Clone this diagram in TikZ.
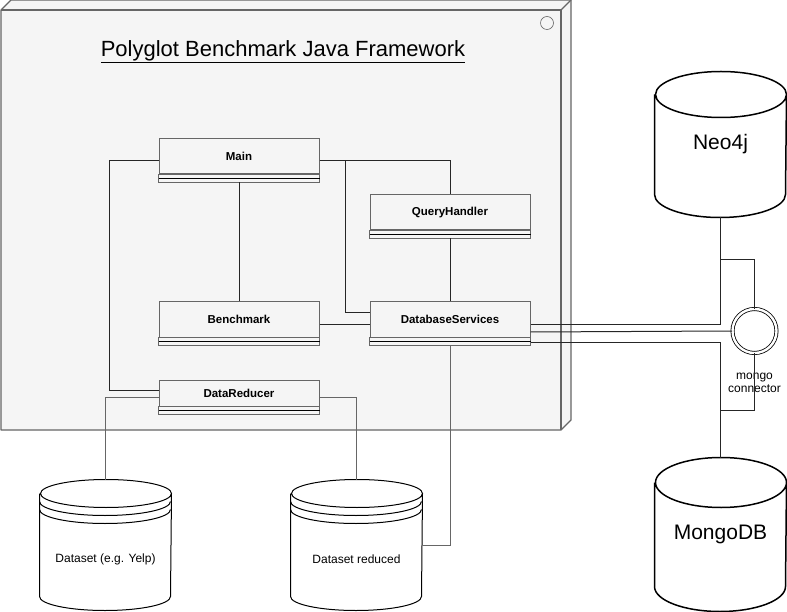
\documentclass[tikz,border=0pt]{standalone}
\usepackage{fontspec}
\setmainfont{Liberation Sans}
\usepackage{tikz}
\usetikzlibrary{calc, positioning}

\definecolor{framefill}{HTML}{F5F5F5}
\definecolor{framegray}{HTML}{666666}

% cylinder outline round a named node: style, node, ellipse radius
\newcommand{\dbbody}[3]{%
  \draw[#1] ([yshift=-#3]#2.north west) -- ([yshift=#3]#2.south west)
    arc[start angle=180, end angle=360, x radius=65.5pt, y radius=#3]
    -- ([yshift=-#3]#2.north east)
    arc[start angle=0, end angle=360, x radius=65.5pt, y radius=#3];}

\begin{document}
\begin{tikzpicture}[x=1pt,y=-1pt,line width=1pt,
    class node/.style={rectangle,draw=framegray,fill=framefill,minimum width=160pt,
      minimum height=35pt,inner sep=0pt,font=\fontsize{11.5}{14}\selectfont\bfseries},
    db node/.style={rectangle,minimum width=131pt,minimum height=145pt,inner sep=0pt,
      font=\fontsize{21}{25}\selectfont},
    data node/.style={rectangle,minimum width=131pt,minimum height=130pt,inner sep=0pt},
    every label/.style={font=\fontsize{12}{14}\selectfont},
    link/.style={draw=black!85},
    out link/.style={draw=framegray}]

  \useasboundingbox (0,0) rectangle (787,612);

  % framework box
  \draw[framegray,line width=1.2pt,fill=framefill,line join=round]
    (1,10) -- (11,0) -- (571,0) -- (571,420) -- (561,430) -- (1,430) -- cycle;
  \draw[framegray,line width=1.2pt,line join=round] (1,10) -- (561,10) -- (561,430);
  \draw[framegray,line width=1.2pt] (561,10) -- (571,0);
  \draw[framegray,line width=0.6pt] (547,23) circle[radius=6.5pt];
  \node[font=\fontsize{22}{26}\selectfont] (title) at (283,52)
    {\underline{Polyglot Benchmark Java Framework}};

  % classes
  \node[class node] (query) at (450,212.5) {QueryHandler};
  \node[class node] (dbs) [below=71pt of query] {DatabaseServices};
  \node[class node] (bench) [left=50pt of dbs] {Benchmark};
  \node[class node] (main) [above=127pt of bench] {Main};
  \node[class node,minimum height=26pt] (reducer) [below=42pt of bench] {DataReducer};

  \foreach \c in {main,query,bench,dbs,reducer} {
    \draw[framegray,fill=framefill] (\c.south west) rectangle ([yshift=-8pt]\c.south east);
    \draw[black] ([yshift=-4pt]\c.south west) -- ([yshift=-4pt]\c.south east);
  }

  % databases
  \node[data node,label={[yshift=-14pt]center:Dataset (e.g. Yelp)}] (yelp) at (105.5,545) {};
  \node[data node,label={[yshift=-14pt]center:Dataset reduced}] (reduced) [right=119pt of yelp] {};
  \node[db node] (neo) at (720.5,144.5) {Neo4j};
  \node[db node,minimum height=153pt] (mongo) at (720.5,534.5) {MongoDB};

  \dbbody{black}{yelp}{14pt}
  \dbbody{black}{reduced}{14pt}
  \foreach \s in {22,30} {
    \draw ([yshift=-\s pt]yelp.north west) arc[start angle=180, end angle=360, x radius=65.5pt, y radius=14pt];
    \draw ([yshift=-\s pt]reduced.north west) arc[start angle=180, end angle=360, x radius=65.5pt, y radius=14pt];
  }
  \dbbody{black,line width=1.5pt}{neo}{23pt}
  \dbbody{black,line width=1.5pt}{mongo}{25pt}

  % connector
  \node[circle,draw=black,double,double distance=2.4pt,line width=0.8pt,minimum size=44pt,
    inner sep=0pt,label={[align=center,font=\fontsize{12}{13}\selectfont,label distance=16pt]below:mongo\\connector}]
    (conn) at (754.5,331) {};
  \coordinate (neotap) at ([yshift=-42pt]neo.south);
  \coordinate (mongotap) at ([yshift=47pt]mongo.north);

  % links inside the framework
  \draw[link] ([yshift=-4.5pt]main.west) -- ++(-49,0) |- ([yshift=3pt]reducer.west);
  \draw[link] ([yshift=-8pt]main.south) -- (bench.north);
  \draw[link] ([yshift=-4.5pt]main.east) -- ++(26,0) |- ([yshift=6.5pt]dbs.west);
  \draw[link] ([yshift=-4.5pt]main.east) -| (query.north);
  \draw[link] ([yshift=-8pt]query.south) -- (dbs.north);
  \draw[link] ([yshift=-4.5pt]bench.east) -- ([yshift=-4.5pt]dbs.west);

  % links to the data
  \draw[out link] ([yshift=-8pt]dbs.south) |- (reduced.east);
  \draw[out link] ([yshift=-4pt]reducer.west) -| (yelp.north);
  \draw[out link] ([yshift=-4pt]reducer.east) -| (reduced.north);
  \draw[link] (neo.south) |- ([yshift=-4.5pt]dbs.east);
  \draw[link] ([yshift=-12.5pt]dbs.east) -- (conn.west);
  \draw[link] ([yshift=-22.5pt]dbs.east) -| (mongo.north);
  \draw[link] (neotap) -| (conn.north);
  \draw[link] (conn.south) |- (mongotap);

\end{tikzpicture}
\end{document}
